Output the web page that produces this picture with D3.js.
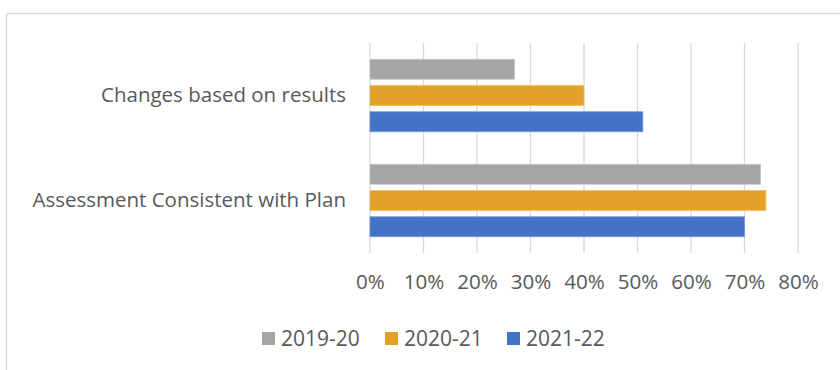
<!DOCTYPE html>
<html>
<head>
<meta charset="utf-8">
<script src="https://cdn.jsdelivr.net/npm/d3@7"></script>
<style>
  body { margin: 0; background: #fff; }
  svg { display: block; }
</style>
</head>
<body>
<div id="chart"></div>
<script>
// data
const categories = ["Changes based on results", "Assessment Consistent with Plan"];
const seriesNames = ["2019-20", "2020-21", "2021-22"];
const values2019 = [0.27, 0.73];
const values2020 = [0.40, 0.74];
const values2021 = [0.51, 0.70];
const tickValues = [0, 0.1, 0.2, 0.3, 0.4, 0.5, 0.6, 0.7, 0.8];
const colors = ["#a5a5a5", "#e2a229", "#4472c4"];
const strokes = ["#c4c4c4", "#f0c060", "#7096dc"];

const seriesValues = [values2019, values2020, values2021];

const W = 840, H = 370;
const font = "'Open Sans', sans-serif";

const svg = d3.select("#chart").append("svg")
  .attr("width", W)
  .attr("height", H);

// chart frame
svg.append("rect")
  .attr("x", 6.5).attr("y", 13.5)
  .attr("width", 900).attr("height", 400)
  .attr("rx", 3)
  .attr("fill", "#fff")
  .attr("stroke", "#d9d9d9")
  .attr("stroke-width", 1.5);

const x = d3.scaleLinear().domain([0, 0.8]).range([370, 798]);

const y0 = d3.scaleBand().domain(categories).range([43, 253]).padding(0);
const y1 = d3.scaleBand().domain(seriesNames).range([0, y0.bandwidth()])
  .paddingInner(0.24).paddingOuter(0.62);

// gridlines
svg.append("g")
  .selectAll("line")
  .data(tickValues)
  .join("line")
  .attr("x1", d => x(d)).attr("x2", d => x(d))
  .attr("y1", 43).attr("y2", 253)
  .attr("stroke", "#d9d9d9")
  .attr("stroke-width", 1.3);

// bars
const groups = svg.append("g")
  .selectAll("g")
  .data(categories)
  .join("g")
  .attr("transform", d => `translate(0,${y0(d)})`);

groups.selectAll("rect")
  .data((c, ci) => seriesNames.map((s, si) => ({ s, si, v: seriesValues[si][ci] })))
  .join("rect")
  .attr("x", x(0))
  .attr("y", d => y1(d.s))
  .attr("width", d => x(d.v) - x(0))
  .attr("height", y1.bandwidth())
  .attr("fill", d => colors[d.si])
  .attr("stroke", d => strokes[d.si])
  .attr("stroke-width", 0.8);

// x axis
const xAxis = svg.append("g")
  .attr("transform", "translate(0,253)")
  .call(d3.axisBottom(x).tickValues(tickValues).tickFormat(d3.format(".0%")).tickSize(0).tickPadding(21));
xAxis.select(".domain").remove();
xAxis.selectAll("text")
  .style("font-family", font)
  .style("font-size", "20.6px")
  .attr("fill", "#595959");

// y axis labels
const yAxis = svg.append("g")
  .attr("transform", "translate(346,0)")
  .call(d3.axisLeft(y0).tickSize(0).tickPadding(0));
yAxis.select(".domain").remove();
yAxis.selectAll("text")
  .style("font-family", font)
  .style("font-size", "20.5px")
  .attr("fill", "#595959");

// legend
const legendX = [262, 385, 507];
const legend = svg.append("g")
  .selectAll("g")
  .data(seriesNames)
  .join("g")
  .attr("transform", (d, i) => `translate(${legendX[i]},332)`);

legend.append("rect")
  .attr("width", 13).attr("height", 13)
  .attr("fill", (d, i) => colors[i]);

legend.append("text")
  .attr("x", 19).attr("y", 6.5)
  .attr("dy", "0.35em")
  .style("font-family", font)
  .style("font-size", "21px")
  .attr("fill", "#595959")
  .text(d => d);
</script>
</body>
</html>
